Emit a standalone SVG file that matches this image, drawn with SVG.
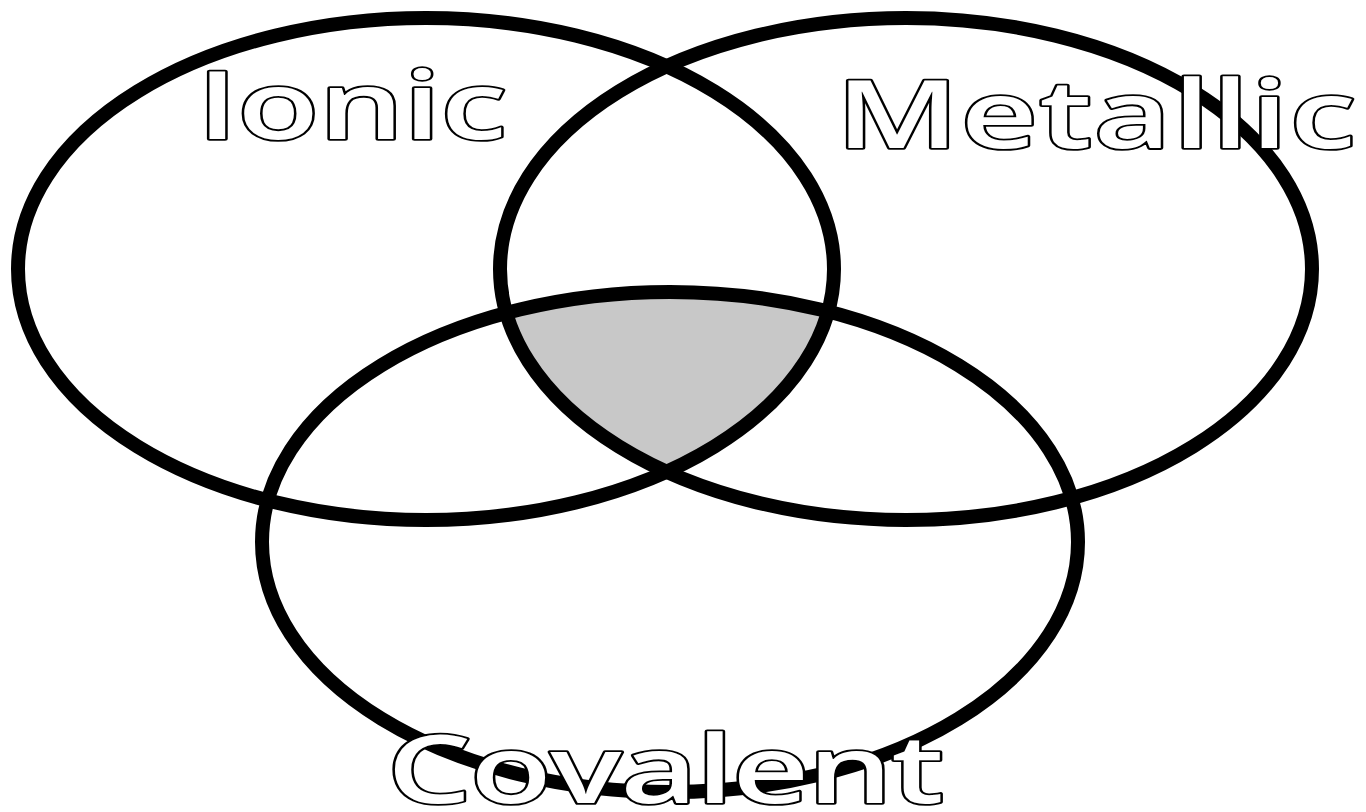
<svg xmlns="http://www.w3.org/2000/svg" width="1366" height="812" viewBox="0 0 1366 812">
<style>
.ring{fill:none;stroke:#000;stroke-width:14}
.lbl{font-family:"Open Sans","Liberation Sans",sans-serif;font-weight:600;font-size:94px;fill:#fff;stroke:#000;stroke-width:4.5;paint-order:stroke;stroke-linejoin:round;vector-effect:non-scaling-stroke}
</style>
<defs>
<clipPath id="cI"><ellipse cx="426" cy="269" rx="408" ry="251"/></clipPath>
<clipPath id="cM"><ellipse cx="906" cy="269" rx="406" ry="251"/></clipPath>
</defs>
<rect width="1366" height="812" fill="#fff"/>
<g clip-path="url(#cI)"><g clip-path="url(#cM)"><ellipse cx="670" cy="542" rx="408" ry="250" fill="#c8c8c8"/></g></g>
<g id="ionic"><ellipse class="ring" cx="426" cy="269" rx="408" ry="251"/></g>
<g id="metallic"><ellipse class="ring" cx="906" cy="269" rx="406" ry="251"/></g>
<g id="covalent"><ellipse class="ring" cx="670" cy="542" rx="408" ry="250"/></g>
<g id="labels" transform="scale(1.42,1)">
<text class="lbl" x="138.7" y="139" textLength="218.3" lengthAdjust="spacing">Ionic</text>
<text class="lbl" x="588.7" y="148" textLength="366.2" lengthAdjust="spacing">Metallic</text>
<text class="lbl" x="272.5" y="803" textLength="392.3" lengthAdjust="spacing">Covalent</text>
</g>
</svg>
